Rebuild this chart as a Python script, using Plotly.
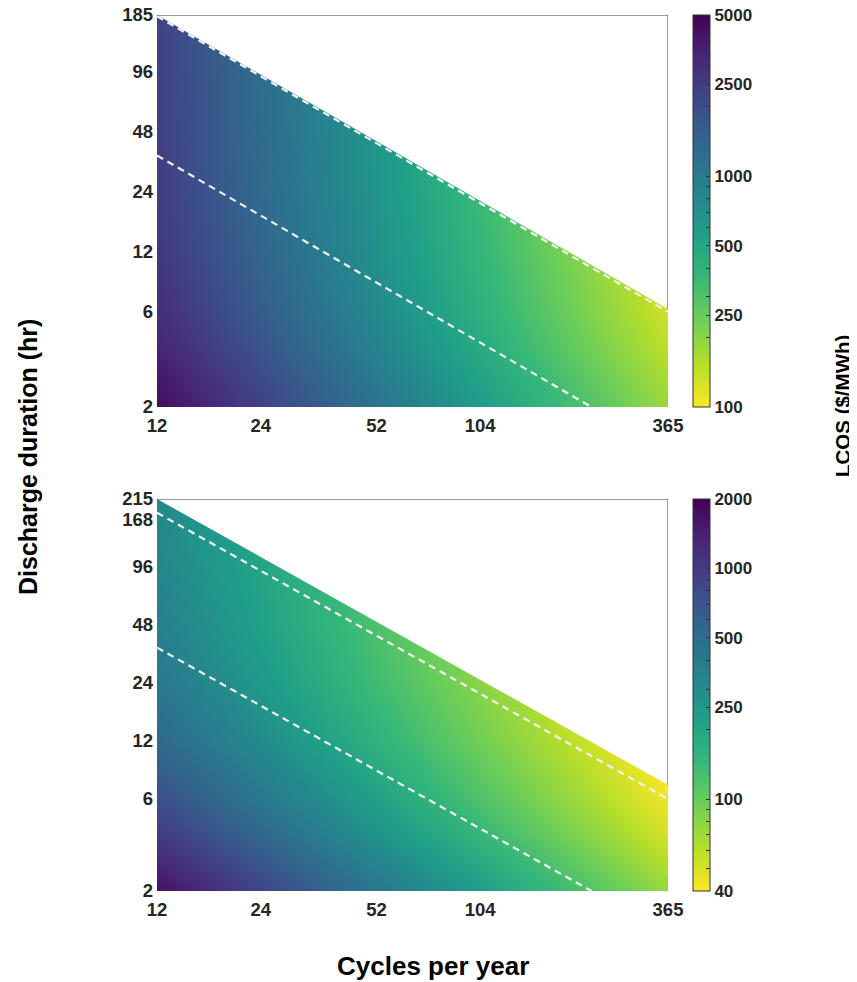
import numpy as np
import plotly.graph_objects as go

# ---------------- data ----------------
cycles = [12, 24, 52, 104, 200, 365]                 # cycles per year (grid columns)
dur_top = [2, 4, 6, 12, 24, 48, 96, 185]             # discharge duration, top panel (grid rows)
dur_bot = [2, 4, 6, 12, 24, 48, 96, 215]             # discharge duration, bottom panel (grid rows)

# LCOS ($/MWh) estimated from the colours, rows = durations, cols = cycles
lcos_top = [
    [4500, 2340, 1130, 590, 319, 182],
    [3388, 1784, 874, 461, 253, 146],
    [3017, 1599, 788, 419, 230, 133],
    [2647, 1413, 703, 376, 208, 121],
    [2461, 1321, 660, 354, 197, 115],
    [2369, 1274, 638, 344, 192, 112],
    [2322, 1251, 628, 338, 189, 111],
    [2300, 1240, 623, 336, 187, 110],
]
lcos_bot = [
    [1710, 891, 433, 229, 127, 74],
    [1008, 539, 271, 148, 85, 51],
    [773, 422, 217, 121, 71, 43],
    [539, 305, 163, 94, 57, 36],
    [422, 247, 136, 81, 50, 32],
    [364, 217, 123, 74, 46, 30],
    [334, 203, 116, 70, 44, 29],
    [318, 195, 112, 69, 43, 28],
]

# feasible-region boundary (duration at min / max cycles)
bound_x = [12, 365]
bound_top_y = [185, 6.2]
bound_bot_y = [215, 7.1]

# dashed reference lines
dash_hi_x = [12, 365]
dash_hi_y = [182.5, 6.0]
dash_lo_x = [12, 219]
dash_lo_y = [36.5, 2]

# axis ticks
x_ticks = [12, 24, 52, 104, 365]
y_ticks_top = [2, 6, 12, 24, 48, 96, 185]
y_ticks_bot = [2, 6, 12, 24, 48, 96, 168, 215]

# colour bar ranges and ticks
cb_top_range = [100, 5000]
cb_top_major = [100, 250, 500, 1000, 2500, 5000]
cb_top_minor = [200, 300, 400, 600, 700, 800, 900, 2000, 3000, 4000]
cb_bot_range = [40, 2000]
cb_bot_major = [40, 100, 250, 500, 1000, 2000]
cb_bot_minor = [50, 60, 70, 80, 90, 200, 300, 400, 600, 700, 800, 900]

# ---------------- figure ----------------
W, H = 857, 982
FONT = "Liberation Sans, Arial, Helvetica, sans-serif"
TXT = "#262626"
OFF = 8  # page body margin
EPS = 1e-9

def px_x(p):
    return (p - OFF) / W

def px_y(p):
    return 1 - (p - OFF) / H

# plot-area pixel boxes (screen coordinates)
X0, X1 = 157, 668
TOP = (15, 407)
BOT = (499, 891)
CB_X = 693


def cb_ticks(major, minor, rng):
    vals = sorted(set(major) | set(minor))
    lo, hi = np.log10(rng[0]), np.log10(rng[1])
    tv = [float(min(max(np.log10(v), lo + EPS), hi - EPS)) for v in vals]
    return tv, [str(v) if v in major else "" for v in vals]


fig = go.Figure()

panels = [
    ("x", "y", dur_top, lcos_top, bound_top_y, cb_top_range, cb_top_major, cb_top_minor, TOP),
    ("x2", "y2", dur_bot, lcos_bot, bound_bot_y, cb_bot_range, cb_bot_major, cb_bot_minor, BOT),
]

for xa, ya, dur, lc, by, rng, major, minor, box in panels:
    tv, tt = cb_ticks(major, minor, rng)
    fig.add_trace(go.Heatmap(
        x=cycles, y=dur, z=np.log10(np.array(lc, dtype=float)),
        xaxis=xa, yaxis=ya,
        colorscale="Viridis", reversescale=True,
        zmin=float(np.log10(rng[0])), zmax=float(np.log10(rng[1])),
        zsmooth="best", hoverinfo="skip",
        colorbar=dict(
            x=px_x(CB_X), xanchor="left", xpad=0, ypad=0,
            y=px_y((box[0] + box[1]) / 2), yanchor="middle",
            len=(box[1] - box[0]) / H, lenmode="fraction",
            thickness=17, thicknessmode="pixels",
            outlinewidth=1, outlinecolor="#333333",
            ticks="inside", ticklen=4, tickcolor="#333333", tickwidth=1,
            tickvals=tv, ticktext=tt, ticklabeloverflow="allow",
            tickfont=dict(family=FONT, size=17, color=TXT, weight="bold"),
        ),
    ))
    ymax = dur[-1]
    # white mask above the feasible boundary
    fig.add_trace(go.Scatter(
        x=[bound_x[0], bound_x[1], bound_x[1], bound_x[0]],
        y=[by[0], by[1], ymax, by[0]],
        xaxis=xa, yaxis=ya, mode="lines", fill="toself",
        fillcolor="white", line=dict(width=0, color="white"),
        hoverinfo="skip", showlegend=False,
    ))
    # dashed lines
    for lx, ly in [(dash_hi_x, dash_hi_y), (dash_lo_x, dash_lo_y)]:
        fig.add_trace(go.Scatter(
            x=lx, y=ly, xaxis=xa, yaxis=ya, mode="lines",
            line=dict(color="#f2f2f2", width=2.2, dash="7px,5px"),
            hoverinfo="skip", showlegend=False,
        ))
    # top / right frame
    fig.add_trace(go.Scatter(
        x=[bound_x[0], bound_x[1], bound_x[1]], y=[ymax, ymax, by[1]],
        xaxis=xa, yaxis=ya, mode="lines", cliponaxis=False,
        line=dict(color="#3a3a3a", width=1),
        hoverinfo="skip", showlegend=False,
    ))

axis_common = dict(
    type="log", showgrid=False, zeroline=False, showline=False, ticks="",
    ticklabeloverflow="allow",
    tickfont=dict(family=FONT, size=18.5, color=TXT, weight="bold"),
)


def lrange(lo, hi):
    return [float(np.log10(lo)) - 1e-7, float(np.log10(hi)) + 1e-7]


fig.update_layout(
    width=W, height=H,
    margin=dict(l=0, r=0, t=0, b=0, pad=0, autoexpand=False),
    paper_bgcolor="white", plot_bgcolor="white",
    showlegend=False,
    xaxis=dict(axis_common, domain=[px_x(X0), px_x(X1)], anchor="y",
               range=lrange(cycles[0], cycles[-1]),
               tickvals=x_ticks, ticktext=[str(v) for v in x_ticks], ticklabelstandoff=5),
    yaxis=dict(axis_common, domain=[px_y(TOP[1]), px_y(TOP[0])], anchor="x",
               range=lrange(dur_top[0], dur_top[-1]),
               tickvals=y_ticks_top, ticktext=[str(v) for v in y_ticks_top], ticklabelstandoff=3),
    xaxis2=dict(axis_common, domain=[px_x(X0), px_x(X1)], anchor="y2",
                range=lrange(cycles[0], cycles[-1]),
                tickvals=x_ticks, ticktext=[str(v) for v in x_ticks], ticklabelstandoff=5),
    yaxis2=dict(axis_common, domain=[px_y(BOT[1]), px_y(BOT[0])], anchor="x2",
                range=lrange(dur_bot[0], dur_bot[-1]),
                tickvals=y_ticks_bot, ticktext=[str(v) for v in y_ticks_bot], ticklabelstandoff=3),
    annotations=[
        dict(text="Discharge duration (hr)", x=px_x(28), y=px_y(457), xref="paper", yref="paper",
             showarrow=False, textangle=-90, xanchor="center", yanchor="middle",
             font=dict(family=FONT, size=25, color="black", weight="bold")),
        dict(text="LCOS ($/MWh)", x=px_x(842), y=px_y(406), xref="paper", yref="paper",
             showarrow=False, textangle=-90, xanchor="center", yanchor="middle",
             font=dict(family=FONT, size=20.5, color="black", weight="bold")),
        dict(text="Cycles per year", x=px_x(433), y=px_y(966), xref="paper", yref="paper",
             showarrow=False, xanchor="center", yanchor="middle",
             font=dict(family=FONT, size=26, color="black", weight="bold")),
    ],
)

fig.write_html("out.html")
